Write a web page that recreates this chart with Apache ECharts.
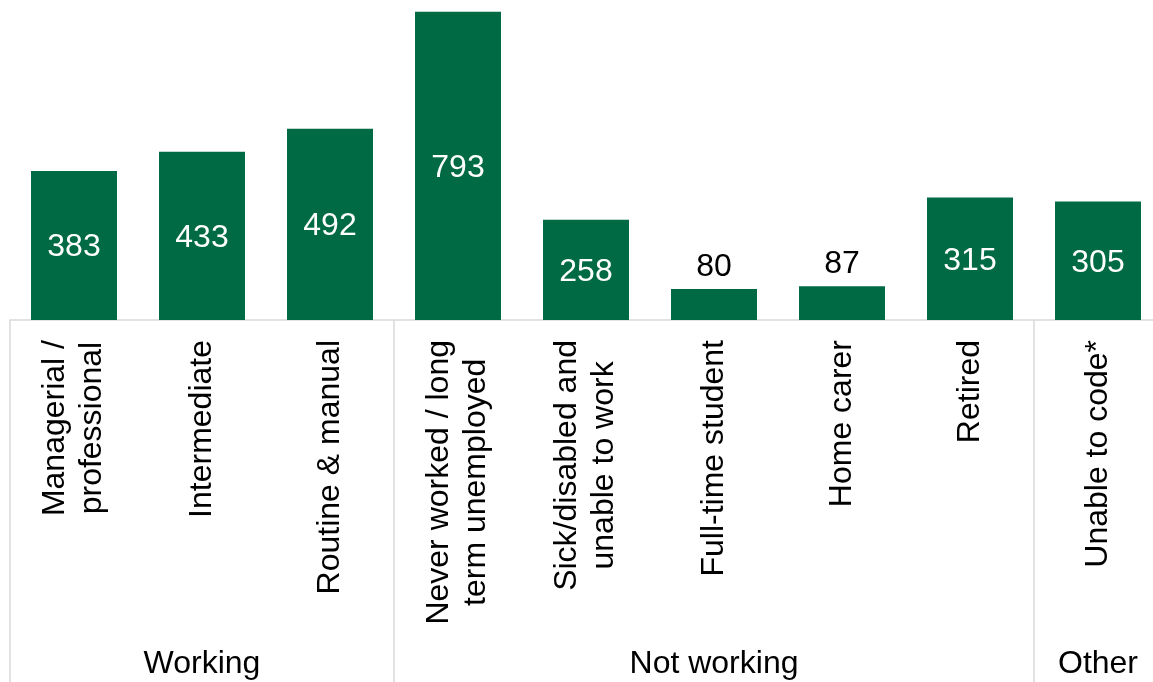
<!DOCTYPE html>
<html>
<head>
<meta charset="utf-8">
<script src="https://cdn.jsdelivr.net/npm/echarts@6/dist/echarts.min.js"></script>
<style>
  html, body { margin: 0; padding: 0; background: #ffffff; }
  #chart { width: 1153px; height: 682px; }
</style>
</head>
<body>
<div id="chart"></div>
<script>
// Economic status categories (line breaks as shown under each bar)
const categories = [
  'Managerial /\nprofessional',
  'Intermediate',
  'Routine & manual',
  'Never worked / long\nterm unemployed',
  'Sick/disabled and\nunable to work',
  'Full-time student',
  'Home carer',
  'Retired',
  'Unable to code*'
];
const counts = [383, 433, 492, 793, 258, 80, 87, 315, 305];

// Group headings, placed at the middle of each group's span of categories
const groupNames = ['Working', 'Not working', 'Other'];
const groupCentres = [1.5, 5.5, 8.5];
// Group boundaries, in category units
const groupEdges = [0, 3, 8, 9];

const FONT = '"Liberation Sans", Arial, sans-serif';
const GREEN = '#006a44';
const RULE = '#d9d9d9';
const FS = 32;

const chart = echarts.init(document.getElementById('chart'), null, { renderer: 'canvas' });

chart.setOption({
  animation: false,
  backgroundColor: '#ffffff',
  grid: {
    left: 10,
    width: 1152,
    top: 9,
    bottom: 362,
    containLabel: false,
    outerBoundsMode: 'none'
  },
  xAxis: [
    {
      type: 'category',
      data: categories,
      axisLine: { show: true, lineStyle: { color: RULE, width: 1.5 } },
      axisTick: { show: false },
      axisLabel: {
        rotate: 90,
        margin: 20,
        interval: 0,
        color: '#000000',
        fontFamily: FONT,
        fontSize: FS,
        lineHeight: 37,
        formatter: function (v) {
          return v.split('\n').map(function (s) { return '{c|' + s + '}'; }).join('\n');
        },
        rich: {
          c: { align: 'center', fontFamily: FONT, fontSize: FS, lineHeight: 37, color: '#000000' }
        }
      }
    },
    {
      type: 'value',
      min: 0,
      max: 9,
      position: 'bottom',
      splitLine: { show: false },
      axisLine: { show: false },
      axisTick: {
        show: true,
        customValues: groupEdges,
        length: 362,
        lineStyle: { color: RULE, width: 1.5 }
      },
      axisLabel: {
        customValues: groupCentres,
        margin: 328,
        color: '#000000',
        fontFamily: FONT,
        fontSize: FS,
        formatter: function (v) {
          const i = groupCentres.indexOf(v);
          return i >= 0 ? groupNames[i] : '';
        }
      }
    }
  ],
  yAxis: {
    type: 'value',
    min: 0,
    max: 800,
    show: false,
    splitLine: { show: false }
  },
  series: [
    {
      type: 'bar',
      xAxisIndex: 0,
      barWidth: 86,
      itemStyle: { color: GREEN },
      data: counts.map(function (v) {
        const small = v < 150;
        return {
          value: v,
          label: {
            position: small ? 'top' : 'inside',
            distance: 6,
            offset: small ? [0, 0] : [0, 2],
            color: small ? '#000000' : '#ffffff'
          }
        };
      }),
      label: {
        show: true,
        fontFamily: FONT,
        fontSize: FS
      }
    }
  ]
});
</script>
</body>
</html>
